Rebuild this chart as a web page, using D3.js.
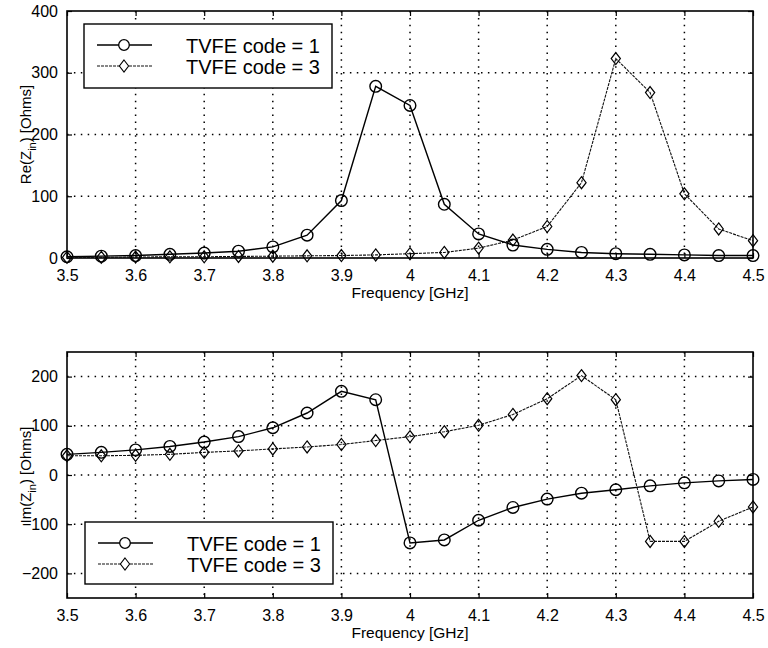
<!DOCTYPE html>
<html>
<head>
<meta charset="utf-8">
<script src="https://cdn.jsdelivr.net/npm/d3@7"></script>
<style>
  body { margin: 0; background: #fff; }
  svg { display: block; font-family: "Liberation Sans", Arial, sans-serif; }
</style>
</head>
<body>
<svg id="chart" width="768" height="648"></svg>
<script>
// frequency points (GHz)
const freq = [3.5, 3.55, 3.6, 3.65, 3.7, 3.75, 3.8, 3.85, 3.9, 3.95, 4.0,
              4.05, 4.1, 4.15, 4.2, 4.25, 4.3, 4.35, 4.4, 4.45, 4.5];

// Re(Zin) [Ohms]
const reCode1 = [2, 3, 4, 6, 8, 11, 18, 37, 93, 278, 247,
                 87, 39, 21, 14, 9, 7, 6, 5, 4, 4];
const reCode3 = [1, 1, 1.5, 2, 2, 2.5, 3, 3.5, 4, 5, 7,
                 9, 16, 29, 51, 122, 323, 268, 104, 47, 28];

// Im(Zin) [Ohms]
const imCode1 = [42, 46, 51, 58, 67, 78, 96, 126, 170, 153, -138,
                 -132, -92, -66, -49, -37, -30, -22, -16, -12, -9];
const imCode3 = [39, 39, 40, 42, 46, 49, 53, 57, 62, 70, 78,
                 88, 101, 123, 155, 202, 153, -135, -135, -94, -65];

const xTicks = [3.5, 3.6, 3.7, 3.8, 3.9, 4.0, 4.1, 4.2, 4.3, 4.4, 4.5];
const reTicks = [0, 100, 200, 300, 400];
const imTicks = [-200, -100, 0, 100, 200];
const legendLabels = ["TVFE code = 1", "TVFE code = 3"];

const svg = d3.select("#chart");
svg.append("rect").attr("width", 768).attr("height", 648).attr("fill", "#fff");

const diamond = "M0,-6L4.6,0L0,6L-4.6,0Z";

function panel({ top, bottom, yDomain, yTicks, series, yLabel, legendBox }) {
  const left = 67, right = 753;
  const x = d3.scaleLinear().domain([3.5, 4.5]).range([left, right]);
  const y = d3.scaleLinear().domain(yDomain).range([bottom, top]);
  const g = svg.append("g");

  // dotted grid
  const grid = g.append("g")
    .attr("stroke", "#000").attr("stroke-width", 1.5)
    .attr("stroke-dasharray", "1.5,5.4");
  grid.selectAll("line.vx")
    .data(xTicks.filter(t => t > 3.5 && t < 4.5))
    .join("line")
    .attr("x1", d => x(d)).attr("x2", d => x(d))
    .attr("y1", top).attr("y2", bottom);
  grid.selectAll("line.hy")
    .data(yTicks.filter(t => y(t) > top + 1 && y(t) < bottom - 1))
    .join("line")
    .attr("y1", d => y(d)).attr("y2", d => y(d))
    .attr("x1", left).attr("x2", right);

  // axes with inward ticks on all four sides
  const fmt = d => String(+d.toFixed(1));
  const axB = g.append("g").attr("transform", `translate(0,${bottom})`)
    .call(d3.axisBottom(x).tickValues(xTicks).tickFormat(fmt).tickSizeInner(-5).tickSizeOuter(0).tickPadding(12));
  const axT = g.append("g").attr("transform", `translate(0,${top})`)
    .call(d3.axisTop(x).tickValues(xTicks).tickFormat("").tickSizeInner(-5).tickSizeOuter(0));
  const axL = g.append("g").attr("transform", `translate(${left},0)`)
    .call(d3.axisLeft(y).tickValues(yTicks).tickSizeInner(-5).tickSizeOuter(0).tickPadding(9));
  const axR = g.append("g").attr("transform", `translate(${right},0)`)
    .call(d3.axisRight(y).tickValues(yTicks).tickFormat("").tickSizeInner(-5).tickSizeOuter(0));
  [axB, axT, axL, axR].forEach(a => {
    a.select(".domain").remove();
    a.selectAll("line").attr("stroke", "#000").attr("stroke-width", 1.2);
    a.selectAll("text").attr("font-size", 16).attr("font-family", "Liberation Sans, Arial, sans-serif").attr("fill", "#000");
  });

  // frame
  g.append("rect")
    .attr("x", left).attr("y", top)
    .attr("width", right - left).attr("height", bottom - top)
    .attr("fill", "none").attr("stroke", "#000").attr("stroke-width", 1.6);

  // axis titles
  g.append("text")
    .attr("x", x(4.0)).attr("y", bottom + 40)
    .attr("text-anchor", "middle").attr("font-size", 15.5)
    .text("Frequency [GHz]");

  const yl = g.append("text")
    .attr("transform", `translate(31,${(top + bottom) / 2}) rotate(-90)`)
    .attr("text-anchor", "middle").attr("font-size", 15);
  yl.append("tspan").text(yLabel + "(Z");
  yl.append("tspan").attr("font-size", 11).attr("dy", 5).text("in");
  yl.append("tspan").attr("dy", -5).text(") [Ohms]");

  // series
  const line = d3.line().x((d, i) => x(freq[i])).y(d => y(d));
  series.forEach(s => {
    g.append("path")
      .attr("d", line(s.values))
      .attr("fill", "none").attr("stroke", s.stroke)
      .attr("stroke-width", s.width)
      .attr("stroke-dasharray", s.dash);
    const m = g.append("g").selectAll("g")
      .data(s.values).join("g")
      .attr("transform", (d, i) => `translate(${x(freq[i])},${y(d)})`);
    if (s.marker === "circle") {
      m.append("circle").attr("r", 5.8)
        .attr("fill", "none").attr("stroke", "#000").attr("stroke-width", 1.4);
    } else {
      m.append("path").attr("d", diamond)
        .attr("fill", "none").attr("stroke", "#000").attr("stroke-width", 1.2);
    }
  });

  // legend
  const lg = g.append("g");
  lg.append("rect")
    .attr("x", legendBox.x).attr("y", legendBox.y)
    .attr("width", 248).attr("height", legendBox.h)
    .attr("fill", "#fff").attr("stroke", "#000").attr("stroke-width", 1.4);
  series.forEach((s, i) => {
    const ry = legendBox.y + 21 + i * 21;
    lg.append("line")
      .attr("x1", legendBox.x + 13).attr("x2", legendBox.x + 68)
      .attr("y1", ry).attr("y2", ry)
      .attr("stroke", s.stroke).attr("stroke-width", s.width)
      .attr("stroke-dasharray", s.dash);
    const mk = lg.append("g").attr("transform", `translate(${legendBox.x + 40},${ry})`);
    if (s.marker === "circle") {
      mk.append("circle").attr("r", 5.3).attr("fill", "#fff").attr("stroke", "#000").attr("stroke-width", 1.3);
    } else {
      mk.append("path").attr("d", diamond).attr("fill", "#fff").attr("stroke", "#000").attr("stroke-width", 1.1);
    }
    lg.append("text")
      .attr("x", legendBox.x + 102).attr("y", ry + 7.5)
      .attr("font-size", 20)
      .text(legendLabels[i]);
  });
}

panel({
  top: 11, bottom: 258, yDomain: [0, 400], yTicks: reTicks, yLabel: "Re",
  series: [
    { values: reCode1, marker: "circle", stroke: "#000", width: 1.4, dash: null },
    { values: reCode3, marker: "diamond", stroke: "#111", width: 1.1, dash: "3,1" }
  ],
  legendBox: { x: 84, y: 24, h: 64 }
});

panel({
  top: 352, bottom: 598, yDomain: [-250, 250], yTicks: imTicks, yLabel: "Im",
  series: [
    { values: imCode1, marker: "circle", stroke: "#000", width: 1.4, dash: null },
    { values: imCode3, marker: "diamond", stroke: "#111", width: 1.1, dash: "3,1" }
  ],
  legendBox: { x: 85, y: 522, h: 62 }
});
</script>
</body>
</html>
